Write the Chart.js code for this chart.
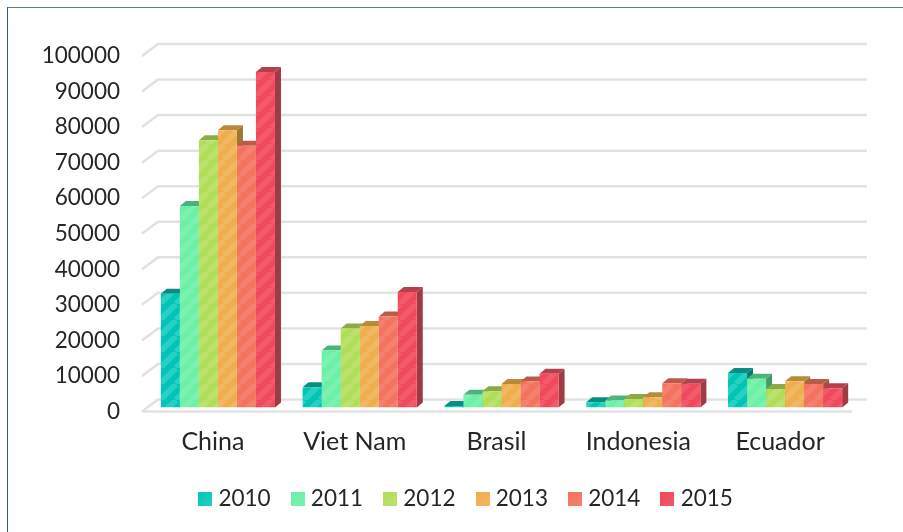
<!DOCTYPE html>
<html lang="en">
  <head>
    <meta charset="utf-8">
    <title>Production by country</title>
    <style>
      html, body { margin: 0; padding: 0; background: #fff; }
      #wrapper { position: relative; width: 903px; height: 532px; overflow: hidden; }
      #frame {
        position: absolute; left: 7px; top: 7px; right: 0; bottom: 0;
        border-left: 1px solid #33588f; border-top: 1px solid #5a78a4;
      }
      canvas { position: absolute; left: 0; top: 0; display: block; }
    </style>
  </head>
  <body>
    <div id="wrapper">
      <div id="frame"></div>
      <canvas id="canvas" width="903" height="532"></canvas>
    </div>

    <script src="https://cdn.jsdelivr.net/npm/chart.js"></script>
    <script>
      const countries = ["China", "Viet Nam", "Brasil", "Indonesia", "Ecuador"];
      const years = ["2010", "2011", "2012", "2013", "2014", "2015"];

      const values2010 = [32000, 5700, 400, 1500, 9700];
      const values2011 = [56700, 16000, 3600, 2000, 8100];
      const values2012 = [75200, 22200, 4600, 2400, 5200];
      const values2013 = [78000, 22900, 6600, 2900, 7400];
      const values2014 = [73600, 25600, 7300, 6800, 6600];
      const values2015 = [94400, 32500, 9500, 6700, 5400];
      const allValues = [values2010, values2011, values2012, values2013, values2014, values2015];

      const baseColors = ["#00c4b6", "#6cf0a6", "#b1de59", "#efad4c", "#f3735e", "#ef4a5b"];
      const lightColors = ["#26d0c3", "#7bf2b0", "#bbe26d", "#f2b763", "#f5806d", "#f2596a"];
      const topColors = ["#0a8c83", "#4cb37a", "#8aab45", "#b98a3c", "#bd5a4a", "#b5404c"];
      const sideColors = ["#087a72", "#409a69", "#76933b", "#9f7733", "#a34e40", "#a03a45"];

      function stripes(base, light) {
        let tile = document.createElement("canvas");
        tile.width = 16;
        tile.height = 16;
        let c = tile.getContext("2d");
        c.fillStyle = base;
        c.fillRect(0, 0, 16, 16);
        c.strokeStyle = light;
        c.lineWidth = 6;
        for (let i = -16; i <= 32; i += 16) {
          c.beginPath();
          c.moveTo(i, 16);
          c.lineTo(i + 16, 0);
          c.stroke();
        }
        return tile;
      }

      function swatch(base, light) {
        let box = document.createElement("canvas");
        box.width = 14;
        box.height = 14;
        let c = box.getContext("2d");
        let g = c.createLinearGradient(0, 0, 14, 14);
        g.addColorStop(0, base);
        g.addColorStop(1, light);
        c.fillStyle = g;
        c.fillRect(0, 0, 14, 14);
        return box;
      }

      const ctx = document.getElementById("canvas").getContext("2d");
      const swatches = baseColors.map((b, i) => swatch(b, lightColors[i]));

      let datasets = [];
      for (let i = 0; i < years.length; i++) {
        datasets.push({
          label: years[i],
          data: allValues[i],
          backgroundColor: ctx.createPattern(stripes(baseColors[i], lightColors[i]), "repeat"),
          borderWidth: 0,
          categoryPercentage: 0.805,
          barPercentage: 1
        });
      }

      // back wall, floor and the depth faces of the bars
      const depth3d = {
        id: "depth3d",
        afterLayout(chart) {
          // legend sits right of the canvas centre
          chart.legend.left += 40;
          chart.legend.right += 40;
        },
        beforeDatasetsDraw(chart) {
          let c = chart.ctx;
          let y = chart.scales.y;
          let area = chart.chartArea;
          let left = area.left - 5;
          let right = area.right + 11;

          c.save();
          c.strokeStyle = "#e2e2e2";
          c.lineWidth = 2.5;
          c.lineJoin = "round";
          y.ticks.forEach(function (t) {
            let py = y.getPixelForValue(t.value);
            c.beginPath();
            c.moveTo(left, py + 4);
            c.lineTo(left + 16, py - 8);
            c.lineTo(right, py - 8);
            c.stroke();
          });
          let floor = y.getPixelForValue(0) + 4;
          c.beginPath();
          c.moveTo(left, floor);
          c.lineTo(right - 15, floor);
          c.stroke();

          chart.data.datasets.forEach(function (ds, d) {
            chart.getDatasetMeta(d).data.forEach(function (bar) {
              let half = bar.width / 2;
              let x1 = bar.x - half;
              let x2 = bar.x + half;
              let t = bar.y;
              let b = y.getPixelForValue(0);
              c.fillStyle = sideColors[d];
              c.beginPath();
              c.moveTo(x2, t);
              c.lineTo(x2 + 6, t - 5);
              c.lineTo(x2 + 6, b - 5);
              c.lineTo(x2, b);
              c.closePath();
              c.fill();
              c.fillStyle = topColors[d];
              c.beginPath();
              c.moveTo(x1, t);
              c.lineTo(x1 + 6, t - 5);
              c.lineTo(x2 + 6, t - 5);
              c.lineTo(x2, t);
              c.closePath();
              c.fill();
            });
          });
          c.restore();
        }
      };

      let chart = new Chart(ctx, {
        type: "bar",
        data: { labels: countries, datasets: datasets },
        plugins: [depth3d],
        options: {
          responsive: false,
          animation: false,
          layout: { padding: { top: 52, right: 47, bottom: 12, left: 0 } },
          scales: {
            x: {
              afterFit(scale) { scale.height -= 5; },
              grid: { display: false },
              border: { display: false },
              ticks: {
                color: "#262626",
                font: { family: "Lato", size: 25 },
                padding: 11,
                labelOffset: -5,
                maxRotation: 0
              }
            },
            y: {
              min: 0,
              max: 100000,
              afterFit(scale) { scale.width = 147; },
              grid: { display: false },
              border: { display: false },
              ticks: {
                stepSize: 10000,
                color: "#262626",
                font: { family: "Lato", size: 22.5 },
                padding: 19,
                labelOffset: 4,
                callback: (v) => String(v)
              }
            }
          },
          plugins: {
            title: { display: false },
            tooltip: { enabled: false },
            legend: {
              position: "bottom",
              labels: {
                usePointStyle: true,
                pointStyleWidth: 4,
                boxHeight: 14,
                padding: 25,
                color: "#262626",
                font: { family: "Lato", size: 22.5 },
                generateLabels() {
                  return years.map((year, i) => ({
                    text: year,
                    datasetIndex: i,
                    pointStyle: swatches[i],
                    fontColor: "#262626",
                    lineWidth: 0
                  }));
                }
              }
            }
          }
        }
      });
    </script>
  </body>
</html>
